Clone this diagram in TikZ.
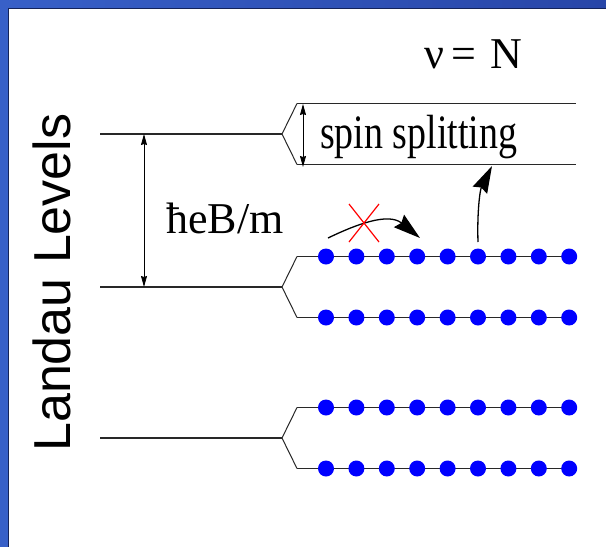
\documentclass[tikz,border=0pt]{standalone}
\usepackage{fontspec}
\usepackage{graphicx}
\setmainfont{Liberation Serif}
\setsansfont{Liberation Sans}
\usetikzlibrary{arrows.meta}
\definecolor{frameL}{RGB}{56,96,200}
\definecolor{frameR}{RGB}{40,70,168}
\definecolor{frameD}{RGB}{20,35,90}
\definecolor{levelgray}{RGB}{40,40,40}
\definecolor{dotblue}{RGB}{0,0,255}
\tikzset{
  level/.style={draw=levelgray, line width=1.4pt},
  fork/.style={draw=levelgray, line width=1pt},
  gap/.style={draw=black, line width=0.8pt, {Stealth[length=11pt,width=6pt,inset=1pt]}-{Stealth[length=11pt,width=6pt,inset=1pt]}},
  bigarrow/.style={draw=black, line width=1.3pt, -{Stealth[length=27pt,width=16pt,inset=3pt]}},
  electron/.style={circle, fill=dotblue, inner sep=0pt, minimum size=16pt},
  serif44/.style={font=\fontsize{44}{50}\selectfont, inner sep=0pt},
}
\begin{document}
\begin{tikzpicture}[x=1pt,y=-1pt]
\useasboundingbox (0,0) rectangle (606,547);
\fill[white] (0,0) rectangle (606,547);
% frame
\shade[left color=frameL, right color=frameR] (0,0) rectangle (606,8);
\fill[frameL] (0,0) rectangle (8,547);
\draw[frameD, line width=1pt] (8.5,547) -- (8.5,8.5) -- (606,8.5);

% level coordinates
\foreach \n/\y in {1/134, 2/287, 3/438} {
  \coordinate (S\n) at (100,\y);
  \coordinate (F\n) at (282,\y);
  \coordinate (U\n) at (297,\y-30.5);
  \coordinate (D\n) at (297,\y+30.5);
  \coordinate (UE\n) at (576,\y-30.5);
  \coordinate (DE\n) at (576,\y+30.5);
  \draw[level] (S\n) -- (F\n);
  \draw[fork] (U\n) -- (F\n) -- (D\n);
  \draw[level] (U\n) -- (UE\n);
  \draw[level] (D\n) -- (DE\n);
}

% electrons
\foreach \n in {2,3} {
  \foreach \i in {0,...,8} {
    \node[electron] (eu\n\i) at (326+30.4*\i, 287+151*\n-302-30.5) {};
    \node[electron] (ed\n\i) at (326+30.4*\i, 287+151*\n-302+30.5) {};
  }
}

% gaps
\coordinate (g1) at (144,134);
\coordinate (g2) at (144,287);
\draw[gap] (g1) -- (g2);
\coordinate (s1) at (303,104);
\coordinate (s2) at (303,167);
\draw[gap] (s1) -- (s2);

% labels
\node[serif44, anchor=base west] (hbar) at (166,233) {ħeB/m};
\node[inner sep=0pt, anchor=base west, font=\fontsize{48}{54}\selectfont] (spin) at (320,148) {\scalebox{0.79}[1]{spin splitting}};
\node[serif44, anchor=base west] (nu) at (424,68) {ν\,=};
\node[serif44, anchor=base west] (NN) at (490,68) {N};
\node[inner sep=0pt, anchor=base west, rotate=90, font=\sffamily\fontsize{52}{58}\selectfont] (LL) at (70,452) {Landau Levels};

% forbidden hop
\coordinate (h0) at (328,238);
\coordinate (h1) at (420,238);
\draw[bigarrow] (h0) .. controls (355,225) and (388,212) .. (h1);
\coordinate (x1) at (349,204);
\coordinate (x2) at (379,242);
\coordinate (x3) at (379,204);
\coordinate (x4) at (349,242);
\draw[red, line width=1.2pt] (x1) -- (x2);
\draw[red, line width=1.2pt] (x3) -- (x4);

% allowed hop
\coordinate (v0) at (478,242);
\coordinate (v1) at (492,166);
\draw[bigarrow] (v0) .. controls (477,212) and (480,190) .. (v1);
\end{tikzpicture}
\end{document}
